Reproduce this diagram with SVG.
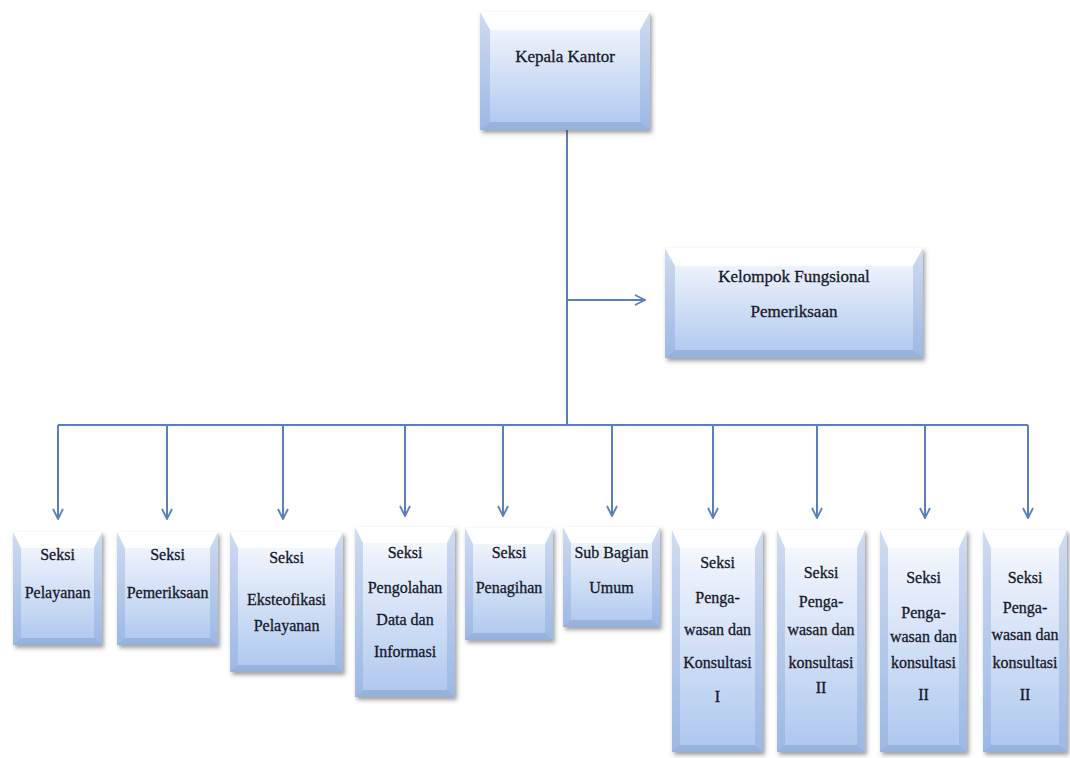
<svg xmlns="http://www.w3.org/2000/svg" width="1070" height="758" viewBox="0 0 1070 758">
<style>
.t{font-size:16px;fill:#15182a;stroke:#15182a;stroke-width:0.3;text-anchor:middle}
.tb{font-size:17px;fill:#15182a;stroke:#15182a;stroke-width:0.3;text-anchor:middle}
.body{fill:url(#gv);filter:url(#sh)}
.bl{fill:#7f9fd3;opacity:.35}
.bt{fill:#ffffff;opacity:.85}
.bb{fill:#5f7fb5;opacity:.3}
.c{stroke:#5b7fb8;stroke-width:2;fill:none}
.a{stroke:#5b7fb8;stroke-width:2;fill:none;marker-end:url(#ar)}
</style>
<defs>
<linearGradient id="gv" x1="0" y1="0" x2="0" y2="1">
<stop offset="0" stop-color="#ffffff"/>
<stop offset="0.15" stop-color="#eef3fc"/>
<stop offset="1" stop-color="#aec7ee"/>
</linearGradient>
<filter id="sh" x="-10%" y="-10%" width="130%" height="130%">
<feDropShadow dx="2" dy="3" stdDeviation="2" flood-color="#404040" flood-opacity="0.5"/>
</filter>
<marker id="ar" viewBox="0 0 12 12" refX="11" refY="6" markerWidth="12" markerHeight="12" markerUnits="userSpaceOnUse" orient="auto">
<path d="M1,1 L11,6 L1,11" fill="none" stroke="#5b7fb8" stroke-width="1.8"/>
</marker>
</defs>
<rect width="1070" height="758" fill="#ffffff"/>
<g id="connectors">
<path class="c" d="M567,130 V425"/>
<path class="a" d="M567,300 H645"/>
<path class="c" d="M58,425 H1028"/>
<path class="a" d="M58,425 V519"/>
<path class="a" d="M167,425 V519"/>
<path class="a" d="M283,425 V519"/>
<path class="a" d="M405,425 V516"/>
<path class="a" d="M503,425 V516"/>
<path class="a" d="M612,425 V516"/>
<path class="a" d="M713,425 V518"/>
<path class="a" d="M817,425 V518"/>
<path class="a" d="M925,425 V518"/>
<path class="a" d="M1028,425 V518"/>
</g>
<g id="nodes" font-family="Liberation Serif, Times New Roman, serif">
<g id="kepala">
<rect class="body" x="480" y="12" width="170" height="118"/>
<polygon class="bt" points="480,12 650,12 640,30 490,30"/>
<polygon class="bl" points="480,12 490,30 490,122 480,130"/>
<polygon class="bl" points="650,12 640,30 640,122 650,130"/>
<polygon class="bb" points="480,130 490,122 640,122 650,130"/>
<text class="tb" x="565" y="62">Kepala Kantor</text>
</g>
<g id="kelompok">
<rect class="body" x="665" y="248" width="258" height="110"/>
<polygon class="bt" points="665,248 923,248 913,266 675,266"/>
<polygon class="bl" points="665,248 675,266 675,350 665,358"/>
<polygon class="bl" points="923,248 913,266 913,350 923,358"/>
<polygon class="bb" points="665,358 675,350 913,350 923,358"/>
<text class="tb" x="794" y="282">Kelompok Fungsional</text>
<text class="tb" x="794" y="317">Pemeriksaan</text>
</g>
<g id="n1">
<rect class="body" x="13" y="532" width="89" height="113"/>
<polygon class="bt" points="13,532 102,532 94,548 21,548"/>
<polygon class="bl" points="13,532 21,548 21,638 13,645"/>
<polygon class="bl" points="102,532 94,548 94,638 102,645"/>
<polygon class="bb" points="13,645 21,638 94,638 102,645"/>
<text class="t" x="57.5" y="560">Seksi</text>
<text class="t" x="57.5" y="598">Pelayanan</text>
</g>
<g id="n2">
<rect class="body" x="117" y="532" width="101" height="113"/>
<polygon class="bt" points="117,532 218,532 210,548 125,548"/>
<polygon class="bl" points="117,532 125,548 125,638 117,645"/>
<polygon class="bl" points="218,532 210,548 210,638 218,645"/>
<polygon class="bb" points="117,645 125,638 210,638 218,645"/>
<text class="t" x="167.5" y="560">Seksi</text>
<text class="t" x="167.5" y="598">Pemeriksaan</text>
</g>
<g id="n3">
<rect class="body" x="230" y="532" width="113" height="140"/>
<polygon class="bt" points="230,532 343,532 335,548 238,548"/>
<polygon class="bl" points="230,532 238,548 238,665 230,672"/>
<polygon class="bl" points="343,532 335,548 335,665 343,672"/>
<polygon class="bb" points="230,672 238,665 335,665 343,672"/>
<text class="t" x="286.5" y="563">Seksi</text>
<text class="t" x="286.5" y="605">Eksteofikasi</text>
<text class="t" x="286.5" y="631">Pelayanan</text>
</g>
<g id="n4">
<rect class="body" x="355" y="527" width="100" height="170"/>
<polygon class="bt" points="355,527 455,527 447,543 363,543"/>
<polygon class="bl" points="355,527 363,543 363,690 355,697"/>
<polygon class="bl" points="455,527 447,543 447,690 455,697"/>
<polygon class="bb" points="355,697 363,690 447,690 455,697"/>
<text class="t" x="405" y="558">Seksi</text>
<text class="t" x="405" y="593">Pengolahan</text>
<text class="t" x="405" y="625">Data dan</text>
<text class="t" x="405" y="657">Informasi</text>
</g>
<g id="n5">
<rect class="body" x="465" y="528" width="88" height="112"/>
<polygon class="bt" points="465,528 553,528 545,544 473,544"/>
<polygon class="bl" points="465,528 473,544 473,633 465,640"/>
<polygon class="bl" points="553,528 545,544 545,633 553,640"/>
<polygon class="bb" points="465,640 473,633 545,633 553,640"/>
<text class="t" x="509" y="558">Seksi</text>
<text class="t" x="509" y="593">Penagihan</text>
</g>
<g id="n6">
<rect class="body" x="563" y="527" width="97" height="100"/>
<polygon class="bt" points="563,527 660,527 652,543 571,543"/>
<polygon class="bl" points="563,527 571,543 571,620 563,627"/>
<polygon class="bl" points="660,527 652,543 652,620 660,627"/>
<polygon class="bb" points="563,627 571,620 652,620 660,627"/>
<text class="t" x="611.5" y="558">Sub Bagian</text>
<text class="t" x="611.5" y="593">Umum</text>
</g>
<g id="n7">
<rect class="body" x="672" y="530" width="91" height="222"/>
<polygon class="bt" points="672,530 763,530 755,548 680,548"/>
<polygon class="bl" points="672,530 680,548 680,745 672,752"/>
<polygon class="bl" points="763,530 755,548 755,745 763,752"/>
<polygon class="bb" points="672,752 680,745 755,745 763,752"/>
<text class="t" x="717.5" y="568">Seksi</text>
<text class="t" x="717.5" y="603">Penga-</text>
<text class="t" x="717.5" y="635">wasan dan</text>
<text class="t" x="717.5" y="668">Konsultasi</text>
<text class="t" x="717.5" y="702">I</text>
</g>
<g id="n8">
<rect class="body" x="777" y="530" width="88" height="222"/>
<polygon class="bt" points="777,530 865,530 857,548 785,548"/>
<polygon class="bl" points="777,530 785,548 785,745 777,752"/>
<polygon class="bl" points="865,530 857,548 857,745 865,752"/>
<polygon class="bb" points="777,752 785,745 857,745 865,752"/>
<text class="t" x="821" y="578">Seksi</text>
<text class="t" x="821" y="607">Penga-</text>
<text class="t" x="821" y="635">wasan dan</text>
<text class="t" x="821" y="668">konsultasi</text>
<text class="t" x="821" y="693">II</text>
</g>
<g id="n9">
<rect class="body" x="880" y="530" width="87" height="222"/>
<polygon class="bt" points="880,530 967,530 959,548 888,548"/>
<polygon class="bl" points="880,530 888,548 888,745 880,752"/>
<polygon class="bl" points="967,530 959,548 959,745 967,752"/>
<polygon class="bb" points="880,752 888,745 959,745 967,752"/>
<text class="t" x="923.5" y="583">Seksi</text>
<text class="t" x="923.5" y="618">Penga-</text>
<text class="t" x="923.5" y="642">wasan dan</text>
<text class="t" x="923.5" y="668">konsultasi</text>
<text class="t" x="923.5" y="700">II</text>
</g>
<g id="n10">
<rect class="body" x="983" y="530" width="84" height="222"/>
<polygon class="bt" points="983,530 1067,530 1059,548 991,548"/>
<polygon class="bl" points="983,530 991,548 991,745 983,752"/>
<polygon class="bl" points="1067,530 1059,548 1059,745 1067,752"/>
<polygon class="bb" points="983,752 991,745 1059,745 1067,752"/>
<text class="t" x="1025" y="583">Seksi</text>
<text class="t" x="1025" y="613">Penga-</text>
<text class="t" x="1025" y="640">wasan dan</text>
<text class="t" x="1025" y="668">konsultasi</text>
<text class="t" x="1025" y="700">II</text>
</g>
</g>
</svg>
